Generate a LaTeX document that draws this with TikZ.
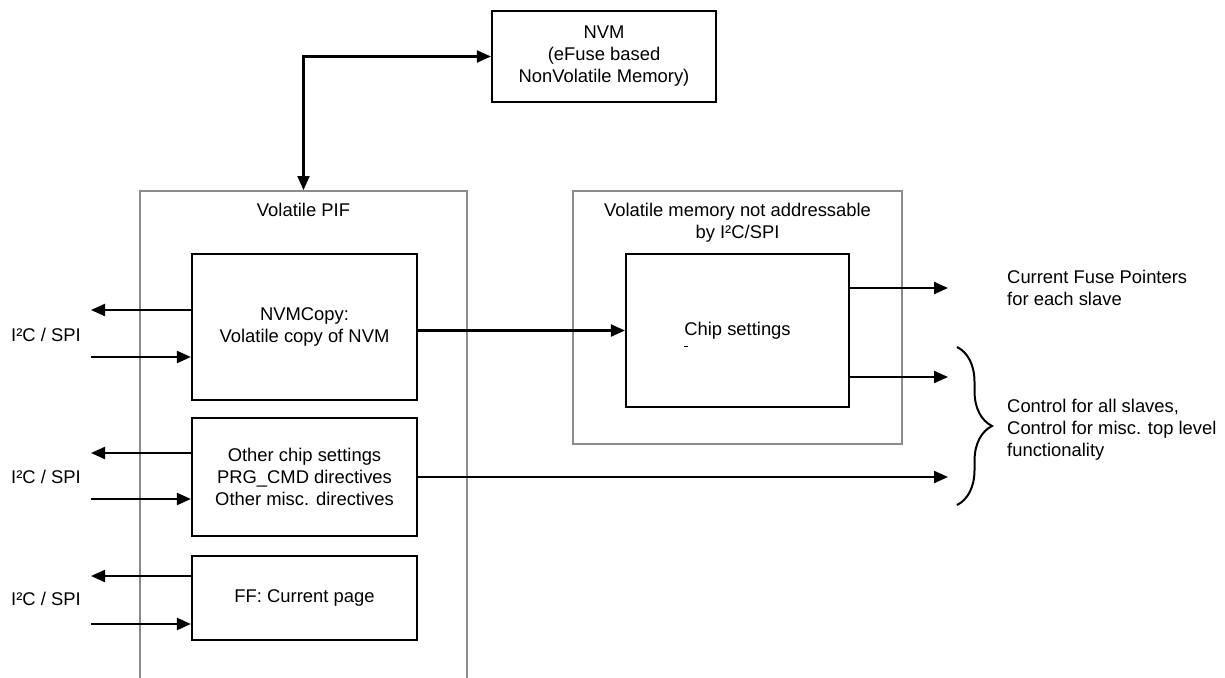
\documentclass[tikz,border=0pt]{standalone}
\usepackage{fontspec}
\setmainfont{Liberation Sans}
\usetikzlibrary{arrows.meta,decorations.pathreplacing,positioning}

\begin{document}
\begin{tikzpicture}[x=1pt, y=-1pt, font=\fontsize{18.4}{22}\selectfont]
\definecolor{blockColour}{RGB}{0, 0, 0}
			\definecolor{groupColour}{RGB}{140, 140, 140}
			\tikzstyle{block}=[rectangle, draw, color=blockColour, line width=2.2pt, align=center, inner sep=0pt]
			\tikzstyle{group}=[rectangle, draw, color=groupColour, line width=2pt, inner sep=0pt]
			\tikzstyle{title}=[align=center, inner sep=0pt]
			\tikzstyle{note}=[anchor=west, align=left, inner sep=0pt]
			\tikzstyle{signal}=[line width=2.2pt, -{Triangle[length=14pt, width=12pt]}]
			\tikzstyle{bisignal}=[line width=2.2pt, {Triangle[length=14pt, width=12pt]}-{Triangle[length=14pt, width=12pt]}]

			\useasboundingbox (0,0) rectangle (1225,677);

			\node [block, minimum width=224pt, minimum height=91pt] (nvm) at (604,56.5) {NVM\\(eFuse based\\NonVolatile Memory)};

			\node [group, minimum width=327pt, minimum height=509pt] (pif) at (303.5,445.5) {};
			\node [title, below=13pt of pif.north] (pifTitle) {Volatile PIF};
			\node [group, minimum width=329pt, minimum height=253pt] (vmem) at (737.5,317.5) {};
			\node [title, below=13pt of vmem.north] (vmemTitle) {Volatile memory not addressable\\by I²C/SPI};

			\node [block, minimum width=225pt, minimum height=146pt] (copy) at (304.5,327) {NVMCopy:\\Volatile copy of NVM};
			\node [block, minimum width=225pt, minimum height=118pt] (other) at (304.5,477) {Other chip settings\\PRG\_CMD directives\\Other misc. directives};
			\node [block, minimum width=225pt, minimum height=84pt] (ff) at (304.5,598) {FF: Current page};
			\node [block, minimum width=223pt, minimum height=153pt] (chip) at (737.5,330.5) {Chip settings};
			\draw [line width=1pt] (684,346) -- (688,346);

			\node (busCopy) at (46,335) {I²C / SPI};
			\node (busOther) at (46,477) {I²C / SPI};
			\node (busFf) at (46,599) {I²C / SPI};

			\coordinate (copyOut) at (91,310);
			\coordinate (copyIn) at (91,357);
			\coordinate (otherOut) at (91,453);
			\coordinate (otherIn) at (91,499);
			\coordinate (ffOut) at (91,576);
			\coordinate (ffIn) at (91,624);
			\coordinate (fuseEnd) at (948,288);
			\coordinate (ctrlEnd) at (948,377);
			\coordinate (otherEnd) at (948,477);
			\coordinate (braceTop) at (957,347);
			\coordinate (braceBottom) at (957,505);

			\node [note] (fuseText) at (1007,287.5) {Current Fuse Pointers\\for each slave};
			\node [note] (ctrlText) at (1007,430) {Control for all slaves,\\Control for misc. top level\\functionality};

			\draw [bisignal] (nvm.west) -| (pif.north);

			\draw [signal] (copy.west |- copyOut) -- (copyOut);
			\draw [signal] (copyIn) -- (copyIn -| copy.west);
			\draw [signal] (other.west |- otherOut) -- (otherOut);
			\draw [signal] (otherIn) -- (otherIn -| other.west);
			\draw [signal] (ff.west |- ffOut) -- (ffOut);
			\draw [signal] (ffIn) -- (ffIn -| ff.west);

			\draw [signal] (copy.east |- chip.west) -- (chip.west);
			\draw [signal] (chip.east |- fuseEnd) -- (fuseEnd);
			\draw [signal] (chip.east |- ctrlEnd) -- (ctrlEnd);
			\draw [signal] (other.east) -- (otherEnd);

			\draw [line width=2pt, decorate, decoration={brace, amplitude=35pt}] (braceTop) -- (braceBottom);
		\end{tikzpicture}
\end{document}
